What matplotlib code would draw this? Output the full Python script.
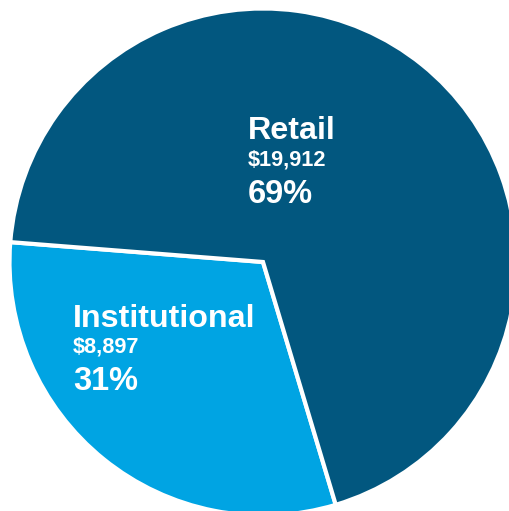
import matplotlib.pyplot as plt

# data
labels = ["Institutional", "Retail"]
values = [8897, 19912]
amounts = ["$8,897", "$19,912"]
percents = ["31%", "69%"]
colors = ["#00A4E3", "#02577F"]

W, H = 509, 511
fig = plt.figure(figsize=(W / 100, H / 100), dpi=100)
ax = fig.add_axes([0, 0, 1, 1])

# pie centre / radius in pixels
cx, cy, r = 263, 262, 253.5
ax.pie(values, colors=colors, startangle=175.5, counterclock=True,
       radius=r, center=(cx, H - cy),
       wedgeprops=dict(edgecolor="white", linewidth=3))
ax.set_xlim(0, W)
ax.set_ylim(0, H)
ax.set_aspect("equal")
ax.axis("off")

font = "Liberation Sans"
# label positions (left x, baselines) in pixels
pos = {"Institutional": (73, 327, 353, 390), "Retail": (248, 139, 165, 203)}
for lab, amt, pct in zip(labels, amounts, percents):
    x, b1, b2, b3 = pos[lab]
    ax.text(x, H - b1, lab, color="white", fontsize=23.2, fontweight="bold",
            family=font, ha="left", va="baseline")
    ax.text(x, H - b2, amt, color="white", fontsize=15.7, fontweight="bold",
            family=font, ha="left", va="baseline")
    ax.text(x, H - b3, pct, color="white", fontsize=23.5, fontweight="bold",
            family=font, ha="left", va="baseline")

fig.savefig("out.png", dpi=100)
